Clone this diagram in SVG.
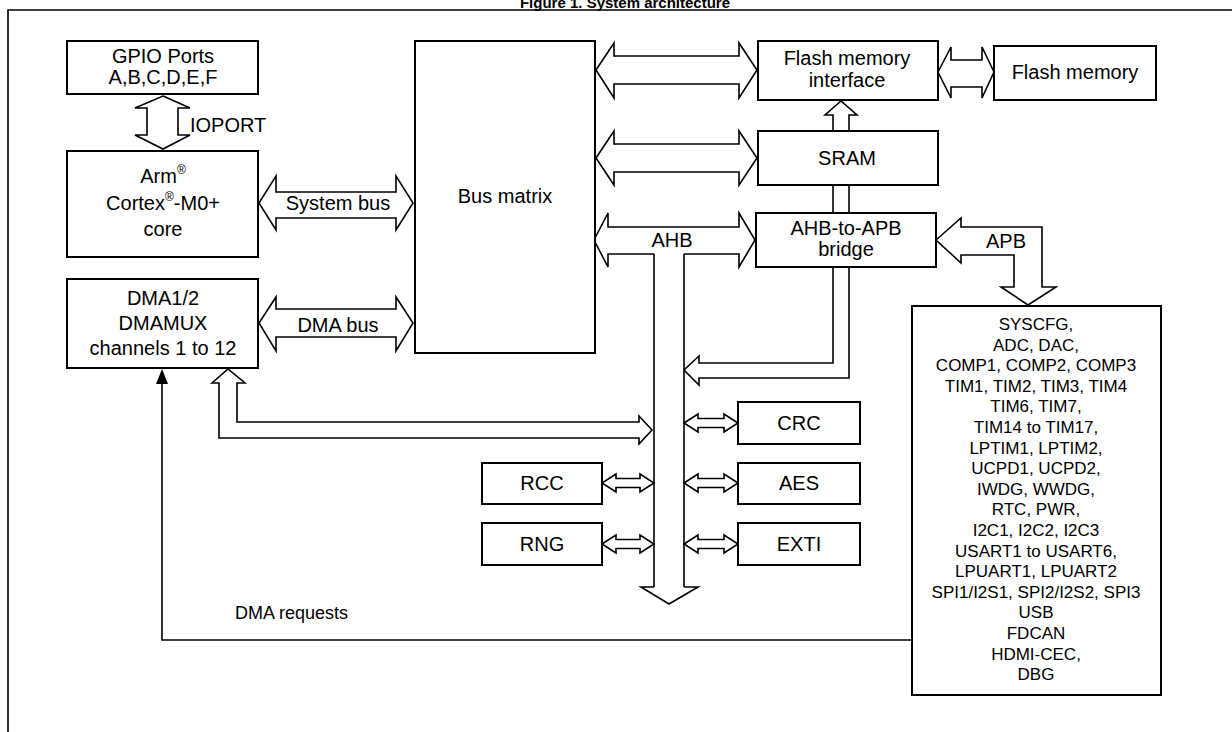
<svg xmlns="http://www.w3.org/2000/svg" width="1232" height="732" viewBox="0 0 1232 732">
<style>
text{font-family:"Liberation Sans",Arial,sans-serif;fill:#000;text-anchor:middle}
.lb{font-size:20px}
.pl{font-size:17px}
.box{fill:#fff;stroke:#000;stroke-width:2}
.ar{fill:#fff;stroke:#000;stroke-width:1.6;stroke-linejoin:miter}
.ln{fill:none;stroke:#000;stroke-width:1.6}
</style>
<rect width="1232" height="732" fill="#fff"/>
<text x="625" y="8" style="font-size:15px;font-weight:bold">Figure 1. System architecture</text>
<path d="M8,732 L8,10 L1232,10" class="ln" stroke-width="2.5"/>

<g id="connectors">
<polygon class="ar" points="163,96 190,108 178,108 178,135 190,135 163,149 135,135 147,135 147,108 135,108"/>
<polygon class="ar" points="259,203 276,176 276,192 396,192 396,176 413,203 396,230 396,218 276,218 276,230"/>
<polygon class="ar" points="259,323 276,297 276,309 396,309 396,297 413,323 396,351 396,337 276,337 276,351"/>
<polygon class="ar" points="596,70 614,43 614,56 739,56 739,43 757,70 739,98 739,84 614,84 614,98"/>
<polygon class="ar" points="938,72 951,47 951,60 982,60 982,47 994,72 982,98 982,87 951,87 951,98"/>
<polygon class="ar" points="596,158 614,131 614,144 739,144 739,131 757,158 739,185 739,172 614,172 614,185"/>
<path class="ar" d="M833,131 L833,115 L825,115 L841,101 L857,115 L849,115 L849,131"/>
<path class="ln" d="M833,185 L833,213 M849,185 L849,213"/>
<path class="ar" d="M654,254 L608,254 L608,267 L594,240 L608,213 L608,227 L739,227 L739,213 L755,240 L739,267 L739,254 L684,254"/>
<path class="ln" d="M654,254 L654,587 M684,254 L684,587"/>
<path class="ar" d="M654,587 L641,587 L669,604 L698,587 L684,587"/>
<path class="ar" d="M833,267 L833,363 L699,363 L699,356 L684,370 L699,385 L699,378 L849,378 L849,267"/>
<polygon class="ar" points="936,240 961,218 961,227 1042,227 1042,287 1056,287 1028,305 1001,287 1014,287 1014,255 961,255 961,263"/>
<polygon class="ar" points="237,383 245,383 228,369 212,383 219,383 219,438 639,438 639,444 652,430 639,416 639,422 237,422"/>
<polygon class="ar" points="602,483 616,474 616,478.5 640,478.5 640,474 654,483 640,492 640,487.5 616,487.5 616,492"/>
<polygon class="ar" points="602,544 616,535 616,539.5 640,539.5 640,535 654,544 640,553 640,548.5 616,548.5 616,553"/>
<polygon class="ar" points="684,423 698,414 698,418.5 724,418.5 724,414 738,423 724,432 724,427.5 698,427.5 698,432"/>
<polygon class="ar" points="684,483 698,474 698,478.5 724,478.5 724,474 738,483 724,492 724,487.5 698,487.5 698,492"/>
<polygon class="ar" points="684,544 698,535 698,539.5 724,539.5 724,535 738,544 724,553 724,548.5 698,548.5 698,553"/>
<polyline class="ln" points="912,640 162,640 162,380" stroke-width="1.3"/>
<polygon points="162,369 156,384 168,384" fill="#000"/>
<text class="lb" x="190" y="132" style="text-anchor:start">IOPORT</text>
<text class="lb" x="338" y="210">System bus</text>
<text class="lb" x="338" y="332">DMA bus</text>
<text class="lb" x="672" y="247">AHB</text>
<text class="lb" x="1006" y="248">APB</text>
<text class="lb" x="235" y="619" style="text-anchor:start;font-size:18px">DMA requests</text>
</g>

<g id="gpio"><rect class="box" x="67" y="41" width="191" height="53"/>
<text class="lb" x="163" y="63">GPIO Ports</text><text class="lb" x="163" y="84">A,B,C,D,E,F</text></g>
<g id="cpu"><rect class="box" x="67" y="151" width="191" height="106"/>
<text class="lb" x="163" y="183">Arm<tspan font-size="12" dy="-9">®</tspan></text>
<text class="lb" x="163" y="210">Cortex<tspan font-size="12" dy="-9">®</tspan><tspan dy="9">-M0+</tspan></text>
<text class="lb" x="163" y="236">core</text></g>
<g id="dma"><rect class="box" x="67" y="279" width="191" height="89"/>
<text class="lb" x="163" y="305">DMA1/2</text><text class="lb" x="163" y="330">DMAMUX</text><text class="lb" x="163" y="355">channels 1 to 12</text></g>
<g id="busmatrix"><rect class="box" x="415" y="41" width="180" height="312"/>
<text class="lb" x="505" y="203">Bus matrix</text></g>
<g id="flashif"><rect class="box" x="758" y="41" width="180" height="59"/>
<text class="lb" x="847" y="65">Flash memory</text><text class="lb" x="847" y="87">interface</text></g>
<g id="flash"><rect class="box" x="994" y="46" width="162" height="54"/>
<text class="lb" x="1075" y="79">Flash memory</text></g>
<g id="sram"><rect class="box" x="758" y="131" width="180" height="54"/>
<text class="lb" x="847" y="165">SRAM</text></g>
<g id="bridge"><rect class="box" x="756" y="213" width="180" height="54"/>
<text class="lb" x="846" y="235">AHB-to-APB</text><text class="lb" x="846" y="256">bridge</text></g>
<g id="crc"><rect class="box" x="738" y="402" width="122" height="42"/><text class="lb" x="799" y="430">CRC</text></g>
<g id="aes"><rect class="box" x="738" y="463" width="122" height="41"/><text class="lb" x="799" y="490">AES</text></g>
<g id="exti"><rect class="box" x="738" y="523" width="122" height="42"/><text class="lb" x="799" y="551">EXTI</text></g>
<g id="rcc"><rect class="box" x="482" y="463" width="120" height="41"/><text class="lb" x="542" y="490">RCC</text></g>
<g id="rng"><rect class="box" x="482" y="523" width="120" height="42"/><text class="lb" x="542" y="551">RNG</text></g>
<g id="apbperiph"><rect class="box" x="912" y="306" width="249" height="389"/>
<text class="pl" x="1036" y="330">SYSCFG,</text>
<text class="pl" x="1036" y="350.6">ADC, DAC,</text>
<text class="pl" x="1036" y="371.2">COMP1, COMP2, COMP3</text>
<text class="pl" x="1036" y="391.8">TIM1, TIM2, TIM3, TIM4</text>
<text class="pl" x="1036" y="412.4">TIM6, TIM7,</text>
<text class="pl" x="1036" y="433">TIM14 to TIM17,</text>
<text class="pl" x="1036" y="453.6">LPTIM1, LPTIM2,</text>
<text class="pl" x="1036" y="474.2">UCPD1, UCPD2,</text>
<text class="pl" x="1036" y="494.8">IWDG, WWDG,</text>
<text class="pl" x="1036" y="515.4">RTC, PWR,</text>
<text class="pl" x="1036" y="536">I2C1, I2C2, I2C3</text>
<text class="pl" x="1036" y="556.6">USART1 to USART6,</text>
<text class="pl" x="1036" y="577.2">LPUART1, LPUART2</text>
<text class="pl" x="1036" y="597.8">SPI1/I2S1, SPI2/I2S2, SPI3</text>
<text class="pl" x="1036" y="618.4">USB</text>
<text class="pl" x="1036" y="639">FDCAN</text>
<text class="pl" x="1036" y="659.6">HDMI-CEC,</text>
<text class="pl" x="1036" y="680.2">DBG</text>
</g>
</svg>
